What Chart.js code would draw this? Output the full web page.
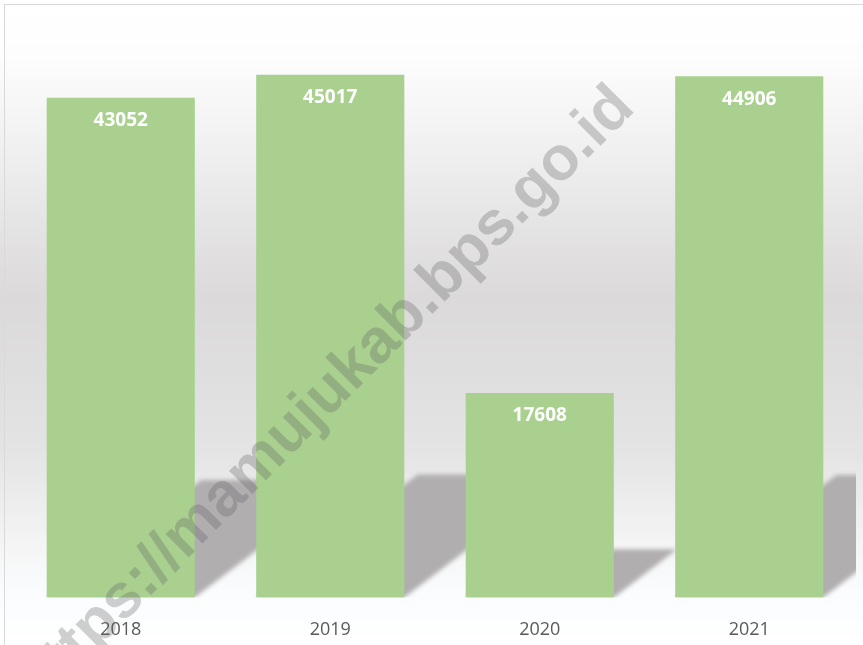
<!DOCTYPE html>
<html>
<head>
<meta charset="utf-8">
<script src="https://cdn.jsdelivr.net/npm/chart.js@4.4.1/dist/chart.umd.min.js"></script>
<style>
  html, body { margin: 0; padding: 0; overflow: hidden; background: #fff; }
  #wrap { position: relative; width: 863px; height: 645px; }
  #chart { display: block; }
  #frame {
    position: absolute; left: 4px; top: 4px; width: 880px; height: 700px;
    border: 1px solid #d9d9d9; pointer-events: none;
  }
</style>
</head>
<body>
<div id="wrap">
  <canvas id="chart" width="863" height="645"></canvas>
  <div id="frame"></div>
</div>
<script>
const years = ["2018", "2019", "2020", "2021"];
const values = [43052, 45017, 17608, 44906];
const watermark = "https://mamujukab.bps.go.id";

const barColor = "#a9d08e";
const font = "'Open Sans', 'Noto Sans', sans-serif";

// gray gradient behind the chart
const backdrop = {
  id: "backdrop",
  beforeDraw: (chart) => {
    const { ctx, width, height } = chart;
    const g = ctx.createLinearGradient(0, 0, 0, height);
    g.addColorStop(0, "#ffffff");
    g.addColorStop(0.09, "#fdfdfd");
    g.addColorStop(0.23, "#f0f0f0");
    g.addColorStop(0.46, "#dbd9da");
    g.addColorStop(0.7, "#e4e4e4");
    g.addColorStop(0.84, "#f4f4f4");
    g.addColorStop(0.92, "#fafcfe");
    g.addColorStop(1, "#ffffff");
    ctx.save();
    ctx.fillStyle = g;
    ctx.fillRect(0, 0, width, height);
    ctx.restore();
  },
};

// slanted floor shadows, taken from each bar's own geometry
const floorShadow = {
  id: "floorShadow",
  beforeDatasetsDraw: (chart) => {
    const { ctx, chartArea } = chart;
    ctx.save();
    ctx.beginPath();
    ctx.rect(chartArea.left, chartArea.top, chartArea.right - chartArea.left + 2, chartArea.bottom - chartArea.top);
    ctx.clip();
    ctx.filter = "blur(2px)";
    ctx.fillStyle = "#b1aeb0";
    chart.getDatasetMeta(0).data.forEach((bar) => {
      const x0 = bar.x - bar.width / 2;
      const x1 = bar.x + bar.width / 2;
      const h = (bar.base - bar.y) * 0.235;
      const d = h / 0.76;
      ctx.beginPath();
      ctx.moveTo(x0, bar.base);
      ctx.lineTo(x1, bar.base);
      ctx.lineTo(x1 + d, bar.base - h);
      ctx.lineTo(x0 + d, bar.base - h);
      ctx.closePath();
      ctx.fill();
    });
    ctx.restore();
  },
};

// value labels inside the top of the bars, then the watermark
const overlay = {
  id: "overlay",
  afterDatasetsDraw: (chart) => {
    const { ctx } = chart;
    ctx.save();
    ctx.fillStyle = "#ffffff";
    ctx.font = `bold 19px ${font}`;
    ctx.textAlign = "center";
    ctx.textBaseline = "middle";
    chart.getDatasetMeta(0).data.forEach((bar, i) => {
      ctx.fillText(values[i], bar.x, bar.y + 23);
    });
    ctx.restore();
  },
  afterDraw: (chart) => {
    const { ctx } = chart;
    ctx.save();
    ctx.translate(326, 396);
    ctx.rotate((-45 * Math.PI) / 180);
    ctx.font = "bold 62px 'Liberation Sans', Arial, sans-serif";
    ctx.textAlign = "center";
    ctx.textBaseline = "middle";
    ctx.fillStyle = "rgba(95, 95, 95, 0.3)";
    ctx.fillText(watermark, 0, 0);
    ctx.restore();
  },
};

const chartCanvas = document.querySelector("#chart");
new Chart(chartCanvas, {
  type: "bar",
  data: {
    labels: years,
    datasets: [
      {
        data: values,
        backgroundColor: barColor,
        borderWidth: 0,
        barPercentage: 0.707,
        categoryPercentage: 1,
      },
    ],
  },
  options: {
    responsive: false,
    animation: false,
    layout: { padding: { left: 16, right: 9, top: 17, bottom: -18 } },
    plugins: { legend: { display: false }, tooltip: { enabled: false } },
    scales: {
      x: {
        grid: { display: false, drawTicks: false },
        border: { display: false },
        ticks: { color: "#595959", font: { family: font, size: 18 }, padding: 22 },
      },
      y: { display: false, min: 0, max: 50000 },
    },
  },
  plugins: [backdrop, floorShadow, overlay],
});
</script>
</body>
</html>
